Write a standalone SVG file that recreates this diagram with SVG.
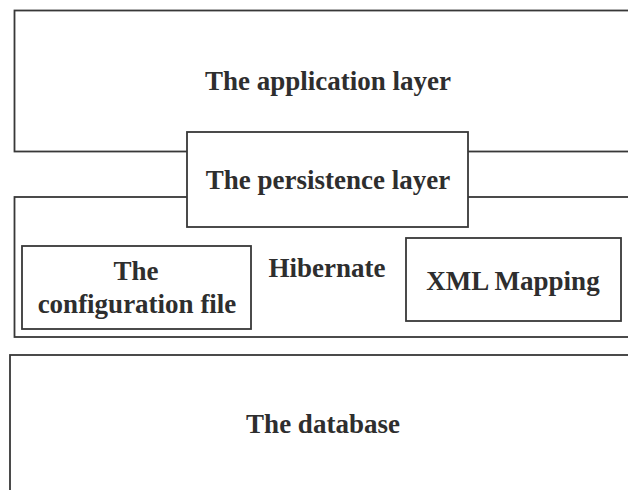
<svg xmlns="http://www.w3.org/2000/svg" width="628" height="490" viewBox="0 0 628 490">
<style>
.box{fill:#fff;stroke:#383838;stroke-width:1.8}
.t{font-family:"Liberation Serif","Times New Roman",serif;font-weight:bold;font-size:27px;fill:#2e2e2e;text-anchor:middle}
</style>
<rect width="628" height="490" fill="#fff"/>
<g id="application">
<rect class="box" x="14.5" y="10.5" width="640" height="141"/>
<text class="t" x="328" y="90">The application layer</text>
</g>
<g id="hibernate">
<rect class="box" x="14.5" y="197" width="640" height="140"/>
<text class="t" x="327" y="277">Hibernate</text>
</g>
<g id="persistence">
<rect class="box" x="187" y="132" width="281" height="95"/>
<text class="t" x="328" y="189">The persistence layer</text>
</g>
<g id="config">
<rect class="box" x="22" y="246" width="229" height="83"/>
<text class="t" x="136" y="280">The</text>
<text class="t" x="137" y="313">configuration file</text>
</g>
<g id="xml">
<rect class="box" x="406" y="238" width="215" height="83"/>
<text class="t" x="513" y="290">XML Mapping</text>
</g>
<g id="database">
<rect class="box" x="10" y="355" width="650" height="150"/>
<text class="t" x="323" y="433">The database</text>
</g>
<g id="connectors"></g>
</svg>
